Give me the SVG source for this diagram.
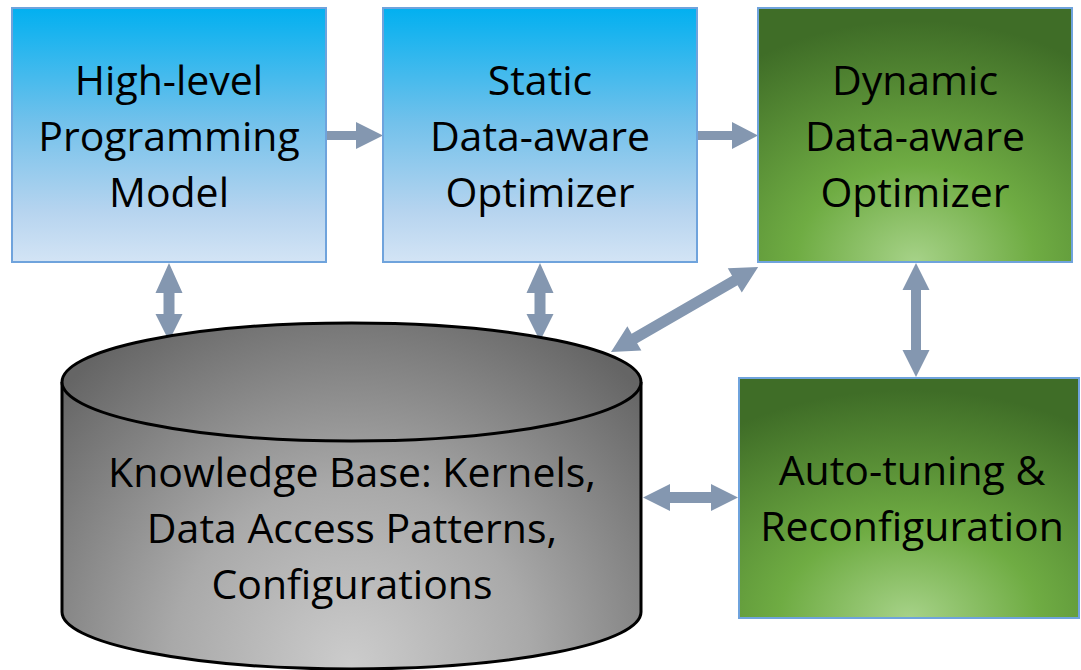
<svg xmlns="http://www.w3.org/2000/svg" width="1081" height="670" viewBox="0 0 1081 670">
  <defs>
    <linearGradient id="blueFill" x1="0" y1="0" x2="0" y2="1">
      <stop offset="0" stop-color="#02b0f0"/>
      <stop offset="0.45" stop-color="#72c1eb"/>
      <stop offset="0.8" stop-color="#b6d4ef"/>
      <stop offset="1" stop-color="#d3e4f5"/>
    </linearGradient>
    <radialGradient id="greenFill" cx="0.5" cy="1" r="0.95">
      <stop offset="0" stop-color="#a6d288"/>
      <stop offset="0.4" stop-color="#6fac43"/>
      <stop offset="1" stop-color="#3f6d27"/>
    </radialGradient>
    <radialGradient id="grayFill" gradientUnits="userSpaceOnUse" cx="351" cy="665" r="400">
      <stop offset="0" stop-color="#cccccc"/>
      <stop offset="0.45" stop-color="#a9a9a9"/>
      <stop offset="1" stop-color="#656565"/>
    </radialGradient>
    <style>
      .box { stroke: #6fa3dc; stroke-width: 2; }
      .blue { fill: url(#blueFill); }
      .green { fill: url(#greenFill); }
      .db { fill: url(#grayFill); stroke: #000000; stroke-width: 3; }
      .label { font-family: "Open Sans", "Liberation Sans", sans-serif; font-size: 41px; fill: #000000; text-anchor: middle; }
      .arrow { fill: #8497b0; }
    </style>
  </defs>

  <!-- connectors -->
  <g id="connectors">
    <polygon class="arrow" points="327,131 356,131 356,122 383,135.5 356,149 356,140 327,140"/>
    <polygon class="arrow" points="698,131 732,131 732,122 758,135.5 732,149 732,140 698,140"/>
    <polygon class="arrow" points="169,263 182.5,293 174.5,293 174.5,314 182.5,314 169,341 155.5,314 163.5,314 163.5,293 155.5,293"/>
    <polygon class="arrow" points="540,263 553.5,293 545.5,293 545.5,314 553.5,314 540,341 526.5,314 534.5,314 534.5,293 526.5,293"/>
    <polygon class="arrow" points="916,263 929.5,290 921,290 921,350 929.5,350 916,377 902.5,350 911,350 911,290 902.5,290"/>
    <polygon class="arrow" points="643,497.5 670,484 670,492 711,492 711,484 738,497.5 711,511 711,503 670,503 670,511"/>
    <polygon class="arrow" transform="translate(611,352) rotate(-30.04)" points="0,0 27,-14 27,-5.5 143,-5.5 143,-14 170,0 143,14 143,5.5 27,5.5 27,14"/>
  </g>

  <g id="programming-model">
    <rect class="box blue" x="12" y="8" width="314" height="254"/>
    <text class="label" x="169" y="95">High-level</text>
    <text class="label" x="169" y="151">Programming</text>
    <text class="label" x="169" y="207">Model</text>
  </g>

  <g id="static-optimizer">
    <rect class="box blue" x="383" y="8" width="314" height="254"/>
    <text class="label" x="540" y="95">Static</text>
    <text class="label" x="540" y="151">Data-aware</text>
    <text class="label" x="540" y="207">Optimizer</text>
  </g>

  <g id="dynamic-optimizer">
    <rect class="box green" x="758" y="8" width="314" height="254"/>
    <text class="label" x="915" y="95">Dynamic</text>
    <text class="label" x="915" y="151">Data-aware</text>
    <text class="label" x="915" y="207">Optimizer</text>
  </g>

  <g id="auto-tuning">
    <rect class="box green" x="739" y="378" width="340" height="240"/>
    <text class="label" x="912" y="485">Auto-tuning &amp;</text>
    <text class="label" x="912" y="541">Reconfiguration</text>
  </g>

  <g id="knowledge-base">
    <path class="db" d="M62,382 V612 A289.5,57 0 0 0 641,612 V382"/>
    <ellipse class="db" cx="351.5" cy="382" rx="289.5" ry="59"/>
    <text class="label" x="352" y="487">Knowledge Base: Kernels,</text>
    <text class="label" x="352" y="543">Data Access Patterns,</text>
    <text class="label" x="352" y="599">Configurations</text>
  </g>
</svg>
